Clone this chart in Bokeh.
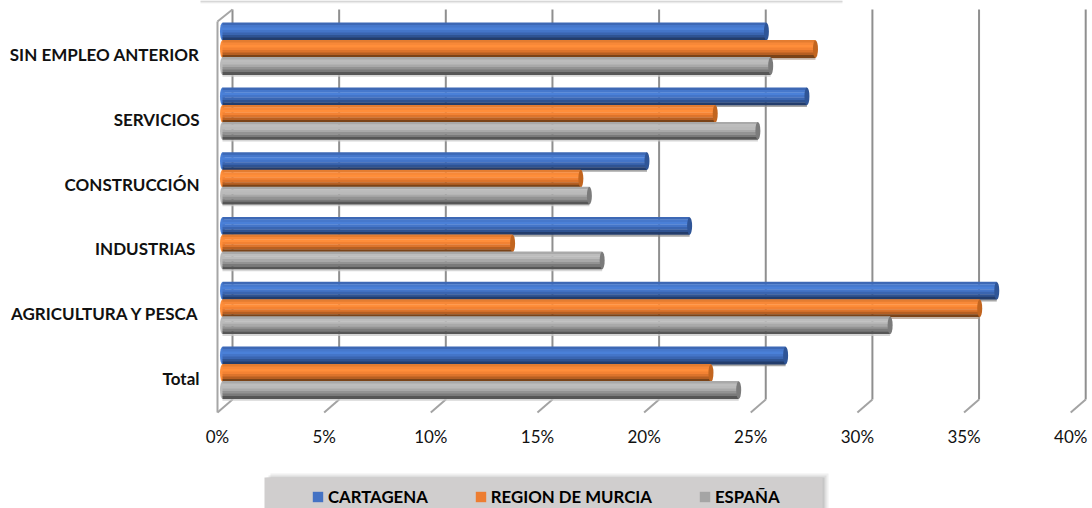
from bokeh.plotting import figure
from bokeh.embed import file_html
from bokeh.resources import INLINE
from bokeh.models import (Range1d, FixedTicker, PrintfTickFormatter,
                          Legend, LegendItem, BoxAnnotation)

categories = ["Total", "AGRICULTURA Y PESCA", "INDUSTRIAS ", "CONSTRUCCIÓN", "SERVICIOS", "SIN EMPLEO ANTERIOR"]
cartagena = [26.4, 36.3, 21.9, 19.9, 27.4, 25.5]
murcia = [22.9, 35.5, 13.6, 16.8, 23.1, 27.8]
espana = [24.2, 31.3, 17.8, 17.2, 25.1, 25.7]
x_ticks = [0, 5, 10, 15, 20, 25, 30, 35, 40]

series_names = ["CARTAGENA", "REGION DE MURCIA", "ESPAÑA"]
series_values = [cartagena, murcia, espana]
swatches = ["#4472C4", "#ED7D31", "#A5A5A5"]
bands = [
    ["#3d68b5", "#4678cc", "#4a80d8", "#4475c8", "#3a65b0", "#2f5392", "#233d6c"],
    ["#e37c30", "#f78838", "#ff8e3a", "#f38233", "#dc742c", "#b65f22", "#7a4318"],
    ["#a9a9a9", "#bdbdbd", "#bababa", "#a9a9a9", "#939393", "#7a7a7a", "#565656"],
]
caps = ["#2f5597", "#c2651f", "#7b7b7b"]
shadows = ["#8a8a8a", "#b09a88", "#c8c8c8"]
centers_px = [23.0, 5.5, -11.5]   # bar centre above the label line, in px

PX = 64.8          # height of one category
SCALE = 21.33      # px per percent
DEPTH = 15 / SCALE # back wall shift in percent units
BASE = 5 / SCALE   # bars stand inside the depth of the chart
FRAME_LEFT = 200


def ypx(py):
    """Vertical position on the category scale for an image row."""
    return (378 - py) / PX


W, H = 1092, 508
p = figure(width=W, height=H, output_backend="svg", toolbar_location=None,
           x_range=Range1d((FRAME_LEFT - 217) / SCALE, (1092 - 217) / SCALE),
           y_range=Range1d(ypx(508), ypx(0)),
           min_border_left=FRAME_LEFT, min_border_right=0, min_border_top=0,
           min_border_bottom=0, background_fill_color="white",
           border_fill_color="white", outline_line_color=None)
p.grid.visible = False

ax = p.xaxis[0]
ax.ticker = FixedTicker(ticks=x_ticks)
ax.formatter = PrintfTickFormatter(format="%d%%")
ax.fixed_location = ypx(423)
ax.axis_line_color = None
ax.major_tick_line_color = None
ax.minor_tick_line_color = None
ax.major_tick_out = 0
ax.major_tick_in = 0
ax.major_label_standoff = 2
ax.major_label_text_font = "Lato"
ax.major_label_text_font_size = "17px"
ax.major_label_text_color = "#111111"

ay = p.yaxis[0]
cat_pos = list(range(len(categories)))
ay.ticker = FixedTicker(ticks=cat_pos)
ay.major_label_overrides = {i: c for i, c in zip(cat_pos, categories)}
ay.axis_line_color = None
ay.major_tick_line_color = None
ay.minor_tick_line_color = None
ay.major_tick_out = 0
ay.major_tick_in = 0
ay.major_label_standoff = 1
ay.major_label_text_font = "Lato"
ay.major_label_text_font_style = "bold"
ay.major_label_text_font_size = "17px"
ay.major_label_text_color = "#111111"

# walls and floor ticks
back = [t + DEPTH for t in x_ticks]
n = len(x_ticks)
p.segment(back, [ypx(9)] * n, back, [ypx(399)] * n, line_color="#8f8f8f", line_width=2)
p.segment(x_ticks, [ypx(412)] * n, back, [ypx(399)] * n, line_color="#a3a3a3", line_width=2)
p.segment([0], [ypx(21)], [0], [ypx(412)], line_color="#a6a6a6", line_width=2)
p.segment([0], [ypx(21)], [DEPTH], [ypx(9)], line_color="#a6a6a6", line_width=2)

# cylinders
base = [BASE] * len(categories)
for i, vals in enumerate(series_values):
    ends = [v + BASE for v in vals]
    yc = [c + (centers_px[i] - 9.5) / PX for c in cat_pos]
    p.hbar(y=yc, left=base, right=ends, height=2.5 / PX, color=shadows[i], alpha=0.75, line_width=0)
for i, vals in enumerate(series_values):
    ends = [v + BASE for v in vals]
    yc = [c + centers_px[i] / PX for c in cat_pos]
    nb = len(bands[i])
    bh = 17.5 / nb
    p.ellipse(x=base, y=yc, width=5, height=17.5, width_units="screen", height_units="screen",
              fill_color=bands[i][2], line_width=0)
    for j, col in enumerate(bands[i]):
        off = (8.75 - (j + 0.5) * bh) / PX
        p.hbar(y=[y + off for y in yc], left=base, right=ends, height=(bh + 0.3) / PX,
               color=col, line_width=0)
    p.ellipse(x=ends, y=yc, width=5, height=17.5, width_units="screen", height_units="screen",
              fill_color=caps[i], line_width=0)

# shadow of the box cut off at the top edge of the picture
for bottom, a in [(3, 0.08), (2, 0.12), (1, 0.15)]:
    p.add_layout(BoxAnnotation(left=185, right=842, top=0, bottom=bottom,
                               left_units="canvas", right_units="canvas",
                               top_units="canvas", bottom_units="canvas",
                               fill_color="#606060", fill_alpha=a, line_color=None,
                               level="underlay"))

# legend background and shadow (canvas coordinates)
for d, a in [(6, 0.10), (4, 0.14), (2, 0.22)]:
    p.add_layout(BoxAnnotation(left=264 + d, right=822 + d, top=477 - d + 2, bottom=508,
                               left_units="canvas", right_units="canvas",
                               top_units="canvas", bottom_units="canvas",
                               fill_color="#707070", fill_alpha=a, line_color=None,
                               level="underlay"))
p.add_layout(BoxAnnotation(left=264, right=822, top=477, bottom=508,
                           left_units="canvas", right_units="canvas",
                           top_units="canvas", bottom_units="canvas",
                           fill_color="#d0cece", fill_alpha=1, line_color=None,
                           level="underlay"))

legend_items = []
for i in range(3):
    r = p.hbar(y=[0], left=[0], right=[0], height=0, color=swatches[i], line_width=0)
    legend_items.append(LegendItem(label=series_names[i], renderers=[r]))
leg = Legend(items=legend_items, orientation="horizontal", location=(111, 1),
             background_fill_alpha=0, border_line_color=None, padding=3, margin=0,
             spacing=46, glyph_width=13, glyph_height=13, label_standoff=4,
             label_text_font="Lato", label_text_font_style="bold",
             label_text_font_size="16.8px", label_text_color="#000000",
             label_height=14)
p.add_layout(leg, "center")

open("out.html", "w").write(file_html(p, INLINE))
